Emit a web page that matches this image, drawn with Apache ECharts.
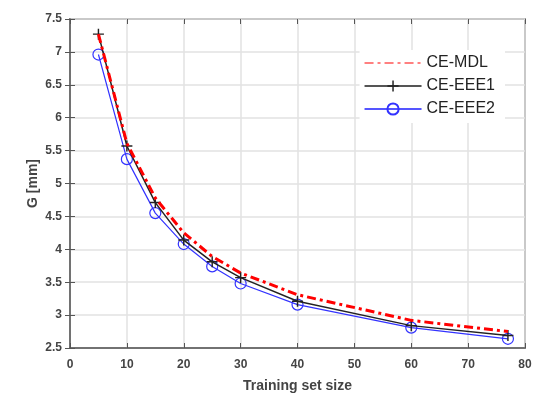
<!DOCTYPE html>
<html>
<head>
<meta charset="utf-8">
<script src="https://cdn.jsdelivr.net/npm/echarts@6/dist/echarts.min.js"></script>
<style>
  html, body { margin: 0; padding: 0; background: #fff; }
  #chart { width: 542px; height: 394px; }
</style>
</head>
<body>
<div id="chart"></div>
<script>
// training set sizes
const sizes = [5, 10, 15, 20, 25, 30, 40, 60, 77]
const ceMdl = [7.27, 5.61, 4.78, 4.25, 3.89, 3.64, 3.31, 2.92, 2.75]
const ceEee1 = [7.27, 5.57, 4.71, 4.14, 3.81, 3.57, 3.21, 2.84, 2.69]
const ceEee2 = [6.96, 5.37, 4.55, 4.08, 3.74, 3.48, 3.16, 2.81, 2.64]

const axisColor = '#555'
const labelStyle = { color: '#444', fontSize: 12, fontWeight: 'bold', fontFamily: 'Liberation Sans' }
const plus = 'path://M4,0h1.2v4h4v1.2h-4v4h-1.2v-4h-4v-1.2h4z'

const chart = echarts.init(document.getElementById('chart'), null, { renderer: 'canvas' })

const pairs = ys => sizes.map((x, i) => [x, ys[i]])

chart.setOption({
  animation: false,
  backgroundColor: '#fff',
  grid: {
    left: 70, right: 17, top: 19, bottom: 46,
    outerBoundsMode: 'none', containLabel: false,
    show: true, borderColor: axisColor, borderWidth: 1.5,
  },
  legend: {
    right: 37, top: 50,
    orient: 'vertical',
    backgroundColor: '#fff',
    padding: [5, 10, 6, 4],
    itemGap: 7,
    itemWidth: 57, itemHeight: 14,
    textStyle: { fontSize: 16, color: '#222', fontFamily: 'Liberation Sans' },
    data: [
      { name: 'CE-MDL', itemStyle: { opacity: 0 }, lineStyle: { color: '#ff8080', width: 2 } },
      { name: 'CE-EEE1', lineStyle: { color: '#555', width: 2 } },
      { name: 'CE-EEE2', lineStyle: { color: '#5555ff' } },
    ],
  },
  xAxis: [{
    type: 'value', min: 0, max: 80, interval: 10,
    name: 'Training set size', nameLocation: 'middle', nameGap: 31,
    nameTextStyle: { color: '#444', fontSize: 14, fontWeight: 'bold', fontFamily: 'Liberation Sans' },
    axisLine: { lineStyle: { color: axisColor, width: 1.5 } },
    axisTick: { inside: true, length: 5, lineStyle: { color: axisColor } },
    axisLabel: { ...labelStyle, margin: 11 },
    splitLine: { lineStyle: { color: '#e2e2e2', width: 1.5 } },
  }, {
    type: 'value', min: 0, max: 80, interval: 10, position: 'top',
    axisLine: { show: false },
    axisTick: { inside: true, length: 5, lineStyle: { color: axisColor } },
    axisLabel: { show: false }, splitLine: { show: false },
  }],
  yAxis: [{
    type: 'value', min: 2.5, max: 7.5, interval: 0.5,
    name: 'G [mm]', nameLocation: 'middle', nameGap: 30, nameMoveOverlap: false,
    nameTextStyle: { color: '#444', fontSize: 14, fontWeight: 'bold', fontFamily: 'Liberation Sans' },
    axisLine: { show: true, lineStyle: { color: axisColor, width: 1.5 } },
    axisTick: { show: true, inside: true, length: 5, lineStyle: { color: axisColor } },
    axisLabel: labelStyle,
    splitLine: { lineStyle: { color: '#e2e2e2', width: 1.5 } },
  }, {
    type: 'value', min: 2.5, max: 7.5, interval: 0.5, position: 'right',
    axisLine: { show: false },
    axisTick: { show: true, inside: true, length: 5, lineStyle: { color: axisColor } },
    axisLabel: { show: false }, splitLine: { show: false },
  }],
  series: [{
    name: 'CE-MDL', type: 'line', data: pairs(ceMdl), z: 4,
    symbol: 'none',
    lineStyle: { color: '#ff0000', width: 3, type: [9, 4, 3, 4] },
    itemStyle: { color: '#ff0000' },
  }, {
    name: 'CE-EEE1', type: 'line', data: pairs(ceEee1), z: 3,
    symbol: plus, symbolSize: 11,
    lineStyle: { color: '#222', width: 1.5 },
    itemStyle: { color: '#222' },
  }, {
    name: 'CE-EEE2', type: 'line', data: pairs(ceEee2), z: 2,
    symbol: 'circle', symbolSize: 11,
    lineStyle: { color: '#3333ff', width: 1.2 },
    itemStyle: { color: 'transparent', borderColor: '#3333ff', borderWidth: 1.2 },
  }],
})
</script>
</body>
</html>
